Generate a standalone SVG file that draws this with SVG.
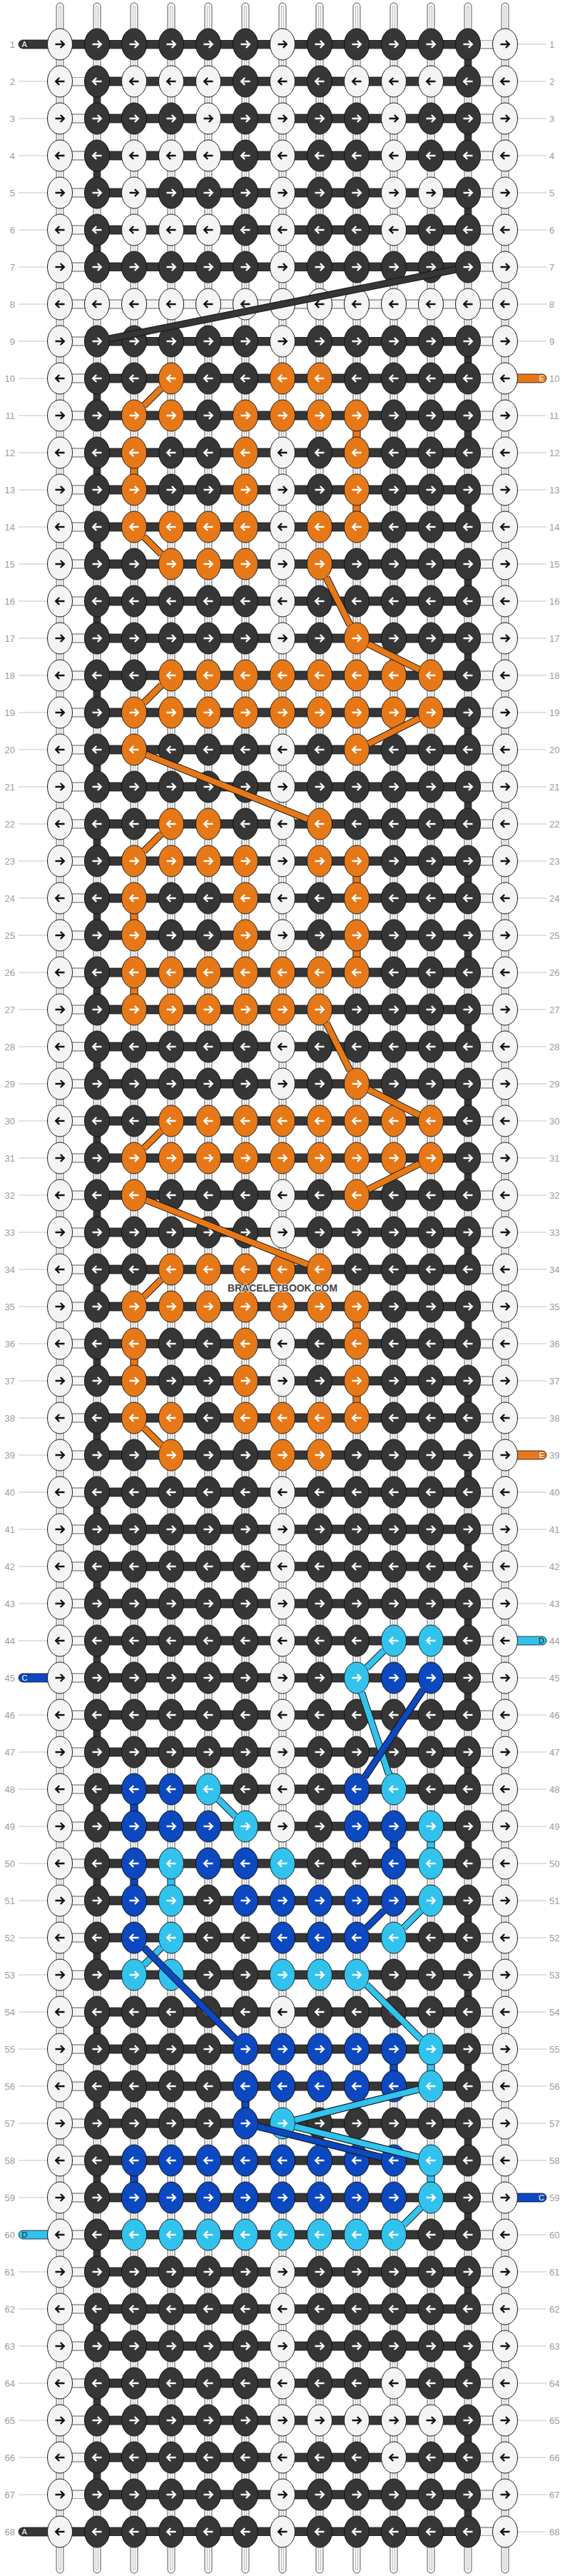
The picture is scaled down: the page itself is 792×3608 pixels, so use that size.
<svg xmlns="http://www.w3.org/2000/svg" width="792" height="3608" viewBox="0 0 792 3608">
<style>
.w{fill:#f4f4f4;stroke:#1a1a1a;stroke-width:1}
.k{fill:#363636;stroke:#111;stroke-width:1}
.o{fill:#e77817;stroke:#1a1a1a;stroke-width:1}
.b{fill:#0c48c0;stroke:#111;stroke-width:1}
.l{fill:#31c3ee;stroke:#1a1a1a;stroke-width:1}
.aw{fill:none;stroke:#fff;stroke-width:2.4}
.ab{fill:none;stroke:#111;stroke-width:2.4}
.t{font-family:"Liberation Sans",Arial,sans-serif;font-size:13px;fill:#9c9c9c}
.e{text-anchor:end}
.pl{font-family:"Liberation Sans",Arial,sans-serif;font-size:11px;fill:#fff}
.cx{fill:none;stroke:#141414;stroke-width:10}
.ck{fill:none;stroke:#363636;stroke-width:8}
.cO{fill:none;stroke:#e77817;stroke-width:8}
.cL{fill:none;stroke:#31c3ee;stroke-width:8}
.cB{fill:none;stroke:#0c48c0;stroke-width:8}
.sO{fill:#e77817;stroke:#1a1a1a;stroke-width:0.8}
.sB{fill:#0c48c0;stroke:#111;stroke-width:0.8}
.sL{fill:#31c3ee;stroke:#1a1a1a;stroke-width:0.8}
</style>
<defs>
<path id="ar" d="M-6.5 0H5M0.8-5L5.8 0L0.8 5"/>
<path id="al" d="M6.5 0H-5M-0.8-5L-5.8 0L-0.8 5"/>
<g id="Wr"><ellipse class="w" rx="17.5" ry="22"/><use href="#ar" class="ab"/></g>
<g id="Wl"><ellipse class="w" rx="17.5" ry="22"/><use href="#al" class="ab"/></g>
<g id="Kr"><ellipse class="k" rx="17.5" ry="22"/><use href="#ar" class="aw"/></g>
<g id="Kl"><ellipse class="k" rx="17.5" ry="22"/><use href="#al" class="aw"/></g>
<g id="Or"><ellipse class="o" rx="17.5" ry="22"/><use href="#ar" class="aw"/></g>
<g id="Ol"><ellipse class="o" rx="17.5" ry="22"/><use href="#al" class="aw"/></g>
<g id="Br"><ellipse class="b" rx="17.5" ry="22"/><use href="#ar" class="aw"/></g>
<g id="Bl"><ellipse class="b" rx="17.5" ry="22"/><use href="#al" class="aw"/></g>
<g id="Lr"><ellipse class="l" rx="17.5" ry="22"/><use href="#ar" class="aw"/></g>
<g id="Ll"><ellipse class="l" rx="17.5" ry="22"/><use href="#al" class="aw"/></g>
<g id="vs"><rect x="-5" y="4" width="10" height="3600" rx="5" fill="#f6f6f6" stroke="#333" stroke-width="0.8"/><rect x="-1.5" y="9" width="3" height="3590" fill="none" stroke="#aaa" stroke-width="0.7"/></g>
<pattern id="pw" x="32" y="36" width="52" height="52" patternUnits="userSpaceOnUse"><rect y="20" width="52" height="12" fill="#f4f4f4" stroke="#333" stroke-width="0.8"/></pattern>
<pattern id="pd" x="32" y="36" width="52" height="52" patternUnits="userSpaceOnUse"><rect y="20" width="52" height="12" fill="#363636" stroke="#111" stroke-width="0.8"/></pattern>
<path id="pK" d="M638.7 377.5L153.3 474.5"/>
<path id="pO" d="M226.3 543.7L201.7 568.3M201.7 751.7L226.3 776.3M457.3 808.6L490.7 875.4M516.3 902.1L587.7 937.9M226.3 959.7L201.7 984.3M587.7 1006.1L516.3 1041.9M204.7 1056.7L431.3 1147.3M226.3 1167.7L201.7 1192.3M457.3 1432.6L490.7 1499.4M516.3 1526.1L587.7 1561.9M226.3 1583.7L201.7 1608.3M587.7 1630.1L516.3 1665.9M204.7 1680.7L431.3 1771.3M226.3 1791.7L201.7 1816.3M201.7 1999.7L226.3 2024.3"/>
<path id="pL" d="M538.3 2311.7L513.7 2336.3M506.8 2370.3L545.2 2485.7M305.7 2519.7L330.3 2544.3M590.3 2675.7L565.7 2700.3M226.3 2727.7L201.7 2752.3M513.7 2779.7L590.3 2856.3M586.8 2926.3L413.2 2969.7M413.2 2978.3L586.8 3021.7M590.3 3091.7L565.7 3116.3"/>
<path id="pB" d="M592.8 2366.9L511.2 2489.1M538.3 2675.7L513.7 2700.3M201.7 2727.7L330.3 2856.3M361.2 2978.3L534.8 3021.7"/>
</defs>
<rect width="792" height="3608" fill="#fff"/>
<g id="label-lines" stroke="#c4c4c4" stroke-width="40" stroke-dasharray="1 51">
<line x1="46" y1="61.5" x2="46" y2="3547"/>
<line x1="746" y1="61.5" x2="746" y2="3547"/>
</g>
<g id="strands">
<use href="#vs" x="84"/><use href="#vs" x="136"/><use href="#vs" x="188"/><use href="#vs" x="240"/><use href="#vs" x="292"/><use href="#vs" x="344"/><use href="#vs" x="396"/><use href="#vs" x="448"/><use href="#vs" x="500"/><use href="#vs" x="552"/><use href="#vs" x="604"/><use href="#vs" x="656"/><use href="#vs" x="708"/>
</g>
<g id="thread-segments">
<g stroke="#363636" stroke-width="10" stroke-dasharray="14 90">
<line x1="656" y1="81" x2="656" y2="303"/>
<line x1="656" y1="497" x2="656" y2="3527"/>
<line x1="136" y1="133" x2="136" y2="355"/>
<line x1="136" y1="549" x2="136" y2="3475"/>
</g>
<g class="sO"><rect x="495" y="601" width="10" height="14"/><rect x="183" y="653" width="10" height="14"/><rect x="495" y="705" width="10" height="14"/><rect x="495" y="1225" width="10" height="14"/><rect x="183" y="1277" width="10" height="14"/><rect x="495" y="1329" width="10" height="14"/><rect x="183" y="1381" width="10" height="14"/><rect x="495" y="1849" width="10" height="14"/><rect x="183" y="1901" width="10" height="14"/><rect x="495" y="1953" width="10" height="14"/></g>
<g class="sB"><rect x="183" y="2525" width="10" height="14"/><rect x="547" y="2577" width="10" height="14"/><rect x="183" y="2629" width="10" height="14"/><rect x="547" y="2889" width="10" height="14"/><rect x="339" y="2941" width="10" height="14"/><rect x="183" y="3045" width="10" height="14"/></g>
<g class="sL"><rect x="599" y="2577" width="10" height="14"/><rect x="235" y="2629" width="10" height="14"/><rect x="599" y="2889" width="10" height="14"/><rect x="599" y="3045" width="10" height="14"/></g>
</g>
<g id="bars">
<rect x="136" y="56" width="520" height="324" fill="url(#pd)"/>
<rect x="136" y="472" width="520" height="3080" fill="url(#pd)"/>
<rect x="136" y="420" width="520" height="12" fill="#f4f4f4" stroke="#333" stroke-width="0.8"/>
<rect x="84" y="108" width="52" height="3392" fill="url(#pw)"/>
<rect x="656" y="56" width="52" height="3496" fill="url(#pw)"/>
</g>
<g id="pills" stroke="#111" stroke-width="0.8">
<rect x="26" y="56" width="110" height="12" rx="6" fill="#363636"/>
<rect x="26" y="3540" width="110" height="12" rx="6" fill="#363636"/>
<rect x="26" y="2344" width="66" height="12" rx="6" fill="#0c48c0"/>
<rect x="26" y="3124" width="66" height="12" rx="6" fill="#31c3ee"/>
<rect x="700" y="524" width="66" height="12" rx="6" fill="#e77817"/>
<rect x="700" y="2032" width="66" height="12" rx="6" fill="#e77817"/>
<rect x="700" y="2292" width="66" height="12" rx="6" fill="#31c3ee"/>
<rect x="700" y="3072" width="66" height="12" rx="6" fill="#0c48c0"/>
</g>
<g id="pill-letters" class="pl">
<text x="30.5" y="66">A</text>
<text x="30.5" y="3550">A</text>
<text x="30.5" y="2354">C</text>
<text x="30.5" y="3134" fill="#222">D</text>
<text x="763" y="534" text-anchor="end">E</text>
<text x="763" y="2042" text-anchor="end">E</text>
<text x="763" y="2302" text-anchor="end" fill="#222">D</text>
<text x="763" y="3082" text-anchor="end">C</text>
</g>
<g id="r1" transform="translate(0,62)"><text class="t e" x="21" y="4.5">1</text><text class="t" x="770" y="4.5">1</text><use href="#Wr" x="84"/><use href="#Kr" x="136"/><use href="#Kr" x="188"/><use href="#Kr" x="240"/><use href="#Kr" x="292"/><use href="#Kr" x="344"/><use href="#Wr" x="396"/><use href="#Kr" x="448"/><use href="#Kr" x="500"/><use href="#Kr" x="552"/><use href="#Kr" x="604"/><use href="#Kr" x="656"/><use href="#Wr" x="708"/></g>
<g id="r2" transform="translate(0,114)"><text class="t e" x="21" y="4.5">2</text><text class="t" x="770" y="4.5">2</text><use href="#Wl" x="84"/><use href="#Kl" x="136"/><use href="#Wl" x="188"/><use href="#Wl" x="240"/><use href="#Wl" x="292"/><use href="#Kl" x="344"/><use href="#Wl" x="396"/><use href="#Kl" x="448"/><use href="#Wl" x="500"/><use href="#Wl" x="552"/><use href="#Wl" x="604"/><use href="#Kl" x="656"/><use href="#Wl" x="708"/></g>
<g id="r3" transform="translate(0,166)"><text class="t e" x="21" y="4.5">3</text><text class="t" x="770" y="4.5">3</text><use href="#Wr" x="84"/><use href="#Kr" x="136"/><use href="#Kr" x="188"/><use href="#Kr" x="240"/><use href="#Wr" x="292"/><use href="#Kr" x="344"/><use href="#Wr" x="396"/><use href="#Kr" x="448"/><use href="#Kr" x="500"/><use href="#Wr" x="552"/><use href="#Kr" x="604"/><use href="#Kr" x="656"/><use href="#Wr" x="708"/></g>
<g id="r4" transform="translate(0,218)"><text class="t e" x="21" y="4.5">4</text><text class="t" x="770" y="4.5">4</text><use href="#Wl" x="84"/><use href="#Kl" x="136"/><use href="#Wl" x="188"/><use href="#Wl" x="240"/><use href="#Wl" x="292"/><use href="#Kl" x="344"/><use href="#Wl" x="396"/><use href="#Kl" x="448"/><use href="#Kl" x="500"/><use href="#Wl" x="552"/><use href="#Kl" x="604"/><use href="#Kl" x="656"/><use href="#Wl" x="708"/></g>
<g id="r5" transform="translate(0,270)"><text class="t e" x="21" y="4.5">5</text><text class="t" x="770" y="4.5">5</text><use href="#Wr" x="84"/><use href="#Kr" x="136"/><use href="#Wr" x="188"/><use href="#Kr" x="240"/><use href="#Kr" x="292"/><use href="#Kr" x="344"/><use href="#Wr" x="396"/><use href="#Kr" x="448"/><use href="#Kr" x="500"/><use href="#Wr" x="552"/><use href="#Wr" x="604"/><use href="#Kr" x="656"/><use href="#Wr" x="708"/></g>
<g id="r6" transform="translate(0,322)"><text class="t e" x="21" y="4.5">6</text><text class="t" x="770" y="4.5">6</text><use href="#Wl" x="84"/><use href="#Kl" x="136"/><use href="#Wl" x="188"/><use href="#Wl" x="240"/><use href="#Wl" x="292"/><use href="#Kl" x="344"/><use href="#Wl" x="396"/><use href="#Kl" x="448"/><use href="#Kl" x="500"/><use href="#Wl" x="552"/><use href="#Kl" x="604"/><use href="#Kl" x="656"/><use href="#Wl" x="708"/></g>
<g id="r7" transform="translate(0,374)"><text class="t e" x="21" y="4.5">7</text><text class="t" x="770" y="4.5">7</text><use href="#Wr" x="84"/><use href="#Kr" x="136"/><use href="#Kr" x="188"/><use href="#Kr" x="240"/><use href="#Kr" x="292"/><use href="#Kr" x="344"/><use href="#Wr" x="396"/><use href="#Kr" x="448"/><use href="#Kr" x="500"/><use href="#Kr" x="552"/><use href="#Kr" x="604"/><use href="#Kr" x="656"/><use href="#Wr" x="708"/></g>
<g id="r8" transform="translate(0,426)"><text class="t e" x="21" y="4.5">8</text><text class="t" x="770" y="4.5">8</text><use href="#Wl" x="84"/><use href="#Wl" x="136"/><use href="#Wl" x="188"/><use href="#Wl" x="240"/><use href="#Wl" x="292"/><use href="#Wl" x="344"/><use href="#Wl" x="396"/><use href="#Wl" x="448"/><use href="#Wl" x="500"/><use href="#Wl" x="552"/><use href="#Wl" x="604"/><use href="#Wl" x="656"/><use href="#Wl" x="708"/></g>
<g id="r9" transform="translate(0,478)"><text class="t e" x="21" y="4.5">9</text><text class="t" x="770" y="4.5">9</text><use href="#Wr" x="84"/><use href="#Kr" x="136"/><use href="#Kr" x="188"/><use href="#Kr" x="240"/><use href="#Kr" x="292"/><use href="#Kr" x="344"/><use href="#Wr" x="396"/><use href="#Kr" x="448"/><use href="#Kr" x="500"/><use href="#Kr" x="552"/><use href="#Kr" x="604"/><use href="#Kr" x="656"/><use href="#Wr" x="708"/></g>
<g id="r10" transform="translate(0,530)"><text class="t e" x="21" y="4.5">10</text><text class="t" x="770" y="4.5">10</text><use href="#Wl" x="84"/><use href="#Kl" x="136"/><use href="#Kl" x="188"/><use href="#Ol" x="240"/><use href="#Kl" x="292"/><use href="#Kl" x="344"/><use href="#Ol" x="396"/><use href="#Ol" x="448"/><use href="#Kl" x="500"/><use href="#Kl" x="552"/><use href="#Kl" x="604"/><use href="#Kl" x="656"/><use href="#Wl" x="708"/></g>
<g id="r11" transform="translate(0,582)"><text class="t e" x="21" y="4.5">11</text><text class="t" x="770" y="4.5">11</text><use href="#Wr" x="84"/><use href="#Kr" x="136"/><use href="#Or" x="188"/><use href="#Or" x="240"/><use href="#Kr" x="292"/><use href="#Or" x="344"/><use href="#Or" x="396"/><use href="#Or" x="448"/><use href="#Or" x="500"/><use href="#Kr" x="552"/><use href="#Kr" x="604"/><use href="#Kr" x="656"/><use href="#Wr" x="708"/></g>
<g id="r12" transform="translate(0,634)"><text class="t e" x="21" y="4.5">12</text><text class="t" x="770" y="4.5">12</text><use href="#Wl" x="84"/><use href="#Kl" x="136"/><use href="#Ol" x="188"/><use href="#Kl" x="240"/><use href="#Kl" x="292"/><use href="#Ol" x="344"/><use href="#Wl" x="396"/><use href="#Kl" x="448"/><use href="#Ol" x="500"/><use href="#Kl" x="552"/><use href="#Kl" x="604"/><use href="#Kl" x="656"/><use href="#Wl" x="708"/></g>
<g id="r13" transform="translate(0,686)"><text class="t e" x="21" y="4.5">13</text><text class="t" x="770" y="4.5">13</text><use href="#Wr" x="84"/><use href="#Kr" x="136"/><use href="#Or" x="188"/><use href="#Kr" x="240"/><use href="#Kr" x="292"/><use href="#Or" x="344"/><use href="#Wr" x="396"/><use href="#Kr" x="448"/><use href="#Or" x="500"/><use href="#Kr" x="552"/><use href="#Kr" x="604"/><use href="#Kr" x="656"/><use href="#Wr" x="708"/></g>
<g id="r14" transform="translate(0,738)"><text class="t e" x="21" y="4.5">14</text><text class="t" x="770" y="4.5">14</text><use href="#Wl" x="84"/><use href="#Kl" x="136"/><use href="#Ol" x="188"/><use href="#Ol" x="240"/><use href="#Ol" x="292"/><use href="#Ol" x="344"/><use href="#Wl" x="396"/><use href="#Ol" x="448"/><use href="#Ol" x="500"/><use href="#Kl" x="552"/><use href="#Kl" x="604"/><use href="#Kl" x="656"/><use href="#Wl" x="708"/></g>
<g id="r15" transform="translate(0,790)"><text class="t e" x="21" y="4.5">15</text><text class="t" x="770" y="4.5">15</text><use href="#Wr" x="84"/><use href="#Kr" x="136"/><use href="#Kr" x="188"/><use href="#Or" x="240"/><use href="#Or" x="292"/><use href="#Or" x="344"/><use href="#Wr" x="396"/><use href="#Or" x="448"/><use href="#Kr" x="500"/><use href="#Kr" x="552"/><use href="#Kr" x="604"/><use href="#Kr" x="656"/><use href="#Wr" x="708"/></g>
<g id="r16" transform="translate(0,842)"><text class="t e" x="21" y="4.5">16</text><text class="t" x="770" y="4.5">16</text><use href="#Wl" x="84"/><use href="#Kl" x="136"/><use href="#Kl" x="188"/><use href="#Kl" x="240"/><use href="#Kl" x="292"/><use href="#Kl" x="344"/><use href="#Wl" x="396"/><use href="#Kl" x="448"/><use href="#Kl" x="500"/><use href="#Kl" x="552"/><use href="#Kl" x="604"/><use href="#Kl" x="656"/><use href="#Wl" x="708"/></g>
<g id="r17" transform="translate(0,894)"><text class="t e" x="21" y="4.5">17</text><text class="t" x="770" y="4.5">17</text><use href="#Wr" x="84"/><use href="#Kr" x="136"/><use href="#Kr" x="188"/><use href="#Kr" x="240"/><use href="#Kr" x="292"/><use href="#Kr" x="344"/><use href="#Wr" x="396"/><use href="#Kr" x="448"/><use href="#Or" x="500"/><use href="#Kr" x="552"/><use href="#Kr" x="604"/><use href="#Kr" x="656"/><use href="#Wr" x="708"/></g>
<g id="r18" transform="translate(0,946)"><text class="t e" x="21" y="4.5">18</text><text class="t" x="770" y="4.5">18</text><use href="#Wl" x="84"/><use href="#Kl" x="136"/><use href="#Kl" x="188"/><use href="#Ol" x="240"/><use href="#Ol" x="292"/><use href="#Ol" x="344"/><use href="#Ol" x="396"/><use href="#Ol" x="448"/><use href="#Ol" x="500"/><use href="#Ol" x="552"/><use href="#Ol" x="604"/><use href="#Kl" x="656"/><use href="#Wl" x="708"/></g>
<g id="r19" transform="translate(0,998)"><text class="t e" x="21" y="4.5">19</text><text class="t" x="770" y="4.5">19</text><use href="#Wr" x="84"/><use href="#Kr" x="136"/><use href="#Or" x="188"/><use href="#Or" x="240"/><use href="#Or" x="292"/><use href="#Or" x="344"/><use href="#Or" x="396"/><use href="#Or" x="448"/><use href="#Or" x="500"/><use href="#Or" x="552"/><use href="#Or" x="604"/><use href="#Kr" x="656"/><use href="#Wr" x="708"/></g>
<g id="r20" transform="translate(0,1050)"><text class="t e" x="21" y="4.5">20</text><text class="t" x="770" y="4.5">20</text><use href="#Wl" x="84"/><use href="#Kl" x="136"/><use href="#Ol" x="188"/><use href="#Kl" x="240"/><use href="#Kl" x="292"/><use href="#Kl" x="344"/><use href="#Wl" x="396"/><use href="#Kl" x="448"/><use href="#Ol" x="500"/><use href="#Kl" x="552"/><use href="#Kl" x="604"/><use href="#Kl" x="656"/><use href="#Wl" x="708"/></g>
<g id="r21" transform="translate(0,1102)"><text class="t e" x="21" y="4.5">21</text><text class="t" x="770" y="4.5">21</text><use href="#Wr" x="84"/><use href="#Kr" x="136"/><use href="#Kr" x="188"/><use href="#Kr" x="240"/><use href="#Kr" x="292"/><use href="#Kr" x="344"/><use href="#Wr" x="396"/><use href="#Kr" x="448"/><use href="#Kr" x="500"/><use href="#Kr" x="552"/><use href="#Kr" x="604"/><use href="#Kr" x="656"/><use href="#Wr" x="708"/></g>
<g id="r22" transform="translate(0,1154)"><text class="t e" x="21" y="4.5">22</text><text class="t" x="770" y="4.5">22</text><use href="#Wl" x="84"/><use href="#Kl" x="136"/><use href="#Kl" x="188"/><use href="#Ol" x="240"/><use href="#Ol" x="292"/><use href="#Kl" x="344"/><use href="#Wl" x="396"/><use href="#Ol" x="448"/><use href="#Kl" x="500"/><use href="#Kl" x="552"/><use href="#Kl" x="604"/><use href="#Kl" x="656"/><use href="#Wl" x="708"/></g>
<g id="r23" transform="translate(0,1206)"><text class="t e" x="21" y="4.5">23</text><text class="t" x="770" y="4.5">23</text><use href="#Wr" x="84"/><use href="#Kr" x="136"/><use href="#Or" x="188"/><use href="#Or" x="240"/><use href="#Or" x="292"/><use href="#Or" x="344"/><use href="#Wr" x="396"/><use href="#Or" x="448"/><use href="#Or" x="500"/><use href="#Kr" x="552"/><use href="#Kr" x="604"/><use href="#Kr" x="656"/><use href="#Wr" x="708"/></g>
<g id="r24" transform="translate(0,1258)"><text class="t e" x="21" y="4.5">24</text><text class="t" x="770" y="4.5">24</text><use href="#Wl" x="84"/><use href="#Kl" x="136"/><use href="#Ol" x="188"/><use href="#Kl" x="240"/><use href="#Kl" x="292"/><use href="#Ol" x="344"/><use href="#Wl" x="396"/><use href="#Kl" x="448"/><use href="#Ol" x="500"/><use href="#Kl" x="552"/><use href="#Kl" x="604"/><use href="#Kl" x="656"/><use href="#Wl" x="708"/></g>
<g id="r25" transform="translate(0,1310)"><text class="t e" x="21" y="4.5">25</text><text class="t" x="770" y="4.5">25</text><use href="#Wr" x="84"/><use href="#Kr" x="136"/><use href="#Or" x="188"/><use href="#Kr" x="240"/><use href="#Kr" x="292"/><use href="#Or" x="344"/><use href="#Wr" x="396"/><use href="#Kr" x="448"/><use href="#Or" x="500"/><use href="#Kr" x="552"/><use href="#Kr" x="604"/><use href="#Kr" x="656"/><use href="#Wr" x="708"/></g>
<g id="r26" transform="translate(0,1362)"><text class="t e" x="21" y="4.5">26</text><text class="t" x="770" y="4.5">26</text><use href="#Wl" x="84"/><use href="#Kl" x="136"/><use href="#Ol" x="188"/><use href="#Ol" x="240"/><use href="#Ol" x="292"/><use href="#Ol" x="344"/><use href="#Ol" x="396"/><use href="#Ol" x="448"/><use href="#Ol" x="500"/><use href="#Kl" x="552"/><use href="#Kl" x="604"/><use href="#Kl" x="656"/><use href="#Wl" x="708"/></g>
<g id="r27" transform="translate(0,1414)"><text class="t e" x="21" y="4.5">27</text><text class="t" x="770" y="4.5">27</text><use href="#Wr" x="84"/><use href="#Kr" x="136"/><use href="#Or" x="188"/><use href="#Or" x="240"/><use href="#Or" x="292"/><use href="#Or" x="344"/><use href="#Or" x="396"/><use href="#Or" x="448"/><use href="#Kr" x="500"/><use href="#Kr" x="552"/><use href="#Kr" x="604"/><use href="#Kr" x="656"/><use href="#Wr" x="708"/></g>
<g id="r28" transform="translate(0,1466)"><text class="t e" x="21" y="4.5">28</text><text class="t" x="770" y="4.5">28</text><use href="#Wl" x="84"/><use href="#Kl" x="136"/><use href="#Kl" x="188"/><use href="#Kl" x="240"/><use href="#Kl" x="292"/><use href="#Kl" x="344"/><use href="#Wl" x="396"/><use href="#Kl" x="448"/><use href="#Kl" x="500"/><use href="#Kl" x="552"/><use href="#Kl" x="604"/><use href="#Kl" x="656"/><use href="#Wl" x="708"/></g>
<g id="r29" transform="translate(0,1518)"><text class="t e" x="21" y="4.5">29</text><text class="t" x="770" y="4.5">29</text><use href="#Wr" x="84"/><use href="#Kr" x="136"/><use href="#Kr" x="188"/><use href="#Kr" x="240"/><use href="#Kr" x="292"/><use href="#Kr" x="344"/><use href="#Wr" x="396"/><use href="#Kr" x="448"/><use href="#Or" x="500"/><use href="#Kr" x="552"/><use href="#Kr" x="604"/><use href="#Kr" x="656"/><use href="#Wr" x="708"/></g>
<g id="r30" transform="translate(0,1570)"><text class="t e" x="21" y="4.5">30</text><text class="t" x="770" y="4.5">30</text><use href="#Wl" x="84"/><use href="#Kl" x="136"/><use href="#Kl" x="188"/><use href="#Ol" x="240"/><use href="#Ol" x="292"/><use href="#Ol" x="344"/><use href="#Ol" x="396"/><use href="#Ol" x="448"/><use href="#Ol" x="500"/><use href="#Ol" x="552"/><use href="#Ol" x="604"/><use href="#Kl" x="656"/><use href="#Wl" x="708"/></g>
<g id="r31" transform="translate(0,1622)"><text class="t e" x="21" y="4.5">31</text><text class="t" x="770" y="4.5">31</text><use href="#Wr" x="84"/><use href="#Kr" x="136"/><use href="#Or" x="188"/><use href="#Or" x="240"/><use href="#Or" x="292"/><use href="#Or" x="344"/><use href="#Or" x="396"/><use href="#Or" x="448"/><use href="#Or" x="500"/><use href="#Or" x="552"/><use href="#Or" x="604"/><use href="#Kr" x="656"/><use href="#Wr" x="708"/></g>
<g id="r32" transform="translate(0,1674)"><text class="t e" x="21" y="4.5">32</text><text class="t" x="770" y="4.5">32</text><use href="#Wl" x="84"/><use href="#Kl" x="136"/><use href="#Ol" x="188"/><use href="#Kl" x="240"/><use href="#Kl" x="292"/><use href="#Kl" x="344"/><use href="#Wl" x="396"/><use href="#Kl" x="448"/><use href="#Ol" x="500"/><use href="#Kl" x="552"/><use href="#Kl" x="604"/><use href="#Kl" x="656"/><use href="#Wl" x="708"/></g>
<g id="r33" transform="translate(0,1726)"><text class="t e" x="21" y="4.5">33</text><text class="t" x="770" y="4.5">33</text><use href="#Wr" x="84"/><use href="#Kr" x="136"/><use href="#Kr" x="188"/><use href="#Kr" x="240"/><use href="#Kr" x="292"/><use href="#Kr" x="344"/><use href="#Wr" x="396"/><use href="#Kr" x="448"/><use href="#Kr" x="500"/><use href="#Kr" x="552"/><use href="#Kr" x="604"/><use href="#Kr" x="656"/><use href="#Wr" x="708"/></g>
<g id="r34" transform="translate(0,1778)"><text class="t e" x="21" y="4.5">34</text><text class="t" x="770" y="4.5">34</text><use href="#Wl" x="84"/><use href="#Kl" x="136"/><use href="#Kl" x="188"/><use href="#Ol" x="240"/><use href="#Ol" x="292"/><use href="#Ol" x="344"/><use href="#Ol" x="396"/><use href="#Ol" x="448"/><use href="#Kl" x="500"/><use href="#Kl" x="552"/><use href="#Kl" x="604"/><use href="#Kl" x="656"/><use href="#Wl" x="708"/></g>
<g id="r35" transform="translate(0,1830)"><text class="t e" x="21" y="4.5">35</text><text class="t" x="770" y="4.5">35</text><use href="#Wr" x="84"/><use href="#Kr" x="136"/><use href="#Or" x="188"/><use href="#Or" x="240"/><use href="#Or" x="292"/><use href="#Or" x="344"/><use href="#Or" x="396"/><use href="#Or" x="448"/><use href="#Or" x="500"/><use href="#Kr" x="552"/><use href="#Kr" x="604"/><use href="#Kr" x="656"/><use href="#Wr" x="708"/></g>
<g id="r36" transform="translate(0,1882)"><text class="t e" x="21" y="4.5">36</text><text class="t" x="770" y="4.5">36</text><use href="#Wl" x="84"/><use href="#Kl" x="136"/><use href="#Ol" x="188"/><use href="#Kl" x="240"/><use href="#Kl" x="292"/><use href="#Ol" x="344"/><use href="#Wl" x="396"/><use href="#Kl" x="448"/><use href="#Ol" x="500"/><use href="#Kl" x="552"/><use href="#Kl" x="604"/><use href="#Kl" x="656"/><use href="#Wl" x="708"/></g>
<g id="r37" transform="translate(0,1934)"><text class="t e" x="21" y="4.5">37</text><text class="t" x="770" y="4.5">37</text><use href="#Wr" x="84"/><use href="#Kr" x="136"/><use href="#Or" x="188"/><use href="#Kr" x="240"/><use href="#Kr" x="292"/><use href="#Or" x="344"/><use href="#Wr" x="396"/><use href="#Kr" x="448"/><use href="#Or" x="500"/><use href="#Kr" x="552"/><use href="#Kr" x="604"/><use href="#Kr" x="656"/><use href="#Wr" x="708"/></g>
<g id="r38" transform="translate(0,1986)"><text class="t e" x="21" y="4.5">38</text><text class="t" x="770" y="4.5">38</text><use href="#Wl" x="84"/><use href="#Kl" x="136"/><use href="#Ol" x="188"/><use href="#Ol" x="240"/><use href="#Kl" x="292"/><use href="#Ol" x="344"/><use href="#Ol" x="396"/><use href="#Ol" x="448"/><use href="#Ol" x="500"/><use href="#Kl" x="552"/><use href="#Kl" x="604"/><use href="#Kl" x="656"/><use href="#Wl" x="708"/></g>
<g id="r39" transform="translate(0,2038)"><text class="t e" x="21" y="4.5">39</text><text class="t" x="770" y="4.5">39</text><use href="#Wr" x="84"/><use href="#Kr" x="136"/><use href="#Kr" x="188"/><use href="#Or" x="240"/><use href="#Kr" x="292"/><use href="#Kr" x="344"/><use href="#Or" x="396"/><use href="#Or" x="448"/><use href="#Kr" x="500"/><use href="#Kr" x="552"/><use href="#Kr" x="604"/><use href="#Kr" x="656"/><use href="#Wr" x="708"/></g>
<g id="r40" transform="translate(0,2090)"><text class="t e" x="21" y="4.5">40</text><text class="t" x="770" y="4.5">40</text><use href="#Wl" x="84"/><use href="#Kl" x="136"/><use href="#Kl" x="188"/><use href="#Kl" x="240"/><use href="#Kl" x="292"/><use href="#Kl" x="344"/><use href="#Wl" x="396"/><use href="#Kl" x="448"/><use href="#Kl" x="500"/><use href="#Kl" x="552"/><use href="#Kl" x="604"/><use href="#Kl" x="656"/><use href="#Wl" x="708"/></g>
<g id="r41" transform="translate(0,2142)"><text class="t e" x="21" y="4.5">41</text><text class="t" x="770" y="4.5">41</text><use href="#Wr" x="84"/><use href="#Kr" x="136"/><use href="#Kr" x="188"/><use href="#Kr" x="240"/><use href="#Kr" x="292"/><use href="#Kr" x="344"/><use href="#Wr" x="396"/><use href="#Kr" x="448"/><use href="#Kr" x="500"/><use href="#Kr" x="552"/><use href="#Kr" x="604"/><use href="#Kr" x="656"/><use href="#Wr" x="708"/></g>
<g id="r42" transform="translate(0,2194)"><text class="t e" x="21" y="4.5">42</text><text class="t" x="770" y="4.5">42</text><use href="#Wl" x="84"/><use href="#Kl" x="136"/><use href="#Kl" x="188"/><use href="#Kl" x="240"/><use href="#Kl" x="292"/><use href="#Kl" x="344"/><use href="#Wl" x="396"/><use href="#Kl" x="448"/><use href="#Kl" x="500"/><use href="#Kl" x="552"/><use href="#Kl" x="604"/><use href="#Kl" x="656"/><use href="#Wl" x="708"/></g>
<g id="r43" transform="translate(0,2246)"><text class="t e" x="21" y="4.5">43</text><text class="t" x="770" y="4.5">43</text><use href="#Wr" x="84"/><use href="#Kr" x="136"/><use href="#Kr" x="188"/><use href="#Kr" x="240"/><use href="#Kr" x="292"/><use href="#Kr" x="344"/><use href="#Wr" x="396"/><use href="#Kr" x="448"/><use href="#Kr" x="500"/><use href="#Kr" x="552"/><use href="#Kr" x="604"/><use href="#Kr" x="656"/><use href="#Wr" x="708"/></g>
<g id="r44" transform="translate(0,2298)"><text class="t e" x="21" y="4.5">44</text><text class="t" x="770" y="4.5">44</text><use href="#Wl" x="84"/><use href="#Kl" x="136"/><use href="#Kl" x="188"/><use href="#Kl" x="240"/><use href="#Kl" x="292"/><use href="#Kl" x="344"/><use href="#Wl" x="396"/><use href="#Kl" x="448"/><use href="#Kl" x="500"/><use href="#Ll" x="552"/><use href="#Ll" x="604"/><use href="#Kl" x="656"/><use href="#Wl" x="708"/></g>
<g id="r45" transform="translate(0,2350)"><text class="t e" x="21" y="4.5">45</text><text class="t" x="770" y="4.5">45</text><use href="#Wr" x="84"/><use href="#Kr" x="136"/><use href="#Kr" x="188"/><use href="#Kr" x="240"/><use href="#Kr" x="292"/><use href="#Kr" x="344"/><use href="#Wr" x="396"/><use href="#Kr" x="448"/><use href="#Lr" x="500"/><use href="#Br" x="552"/><use href="#Br" x="604"/><use href="#Kr" x="656"/><use href="#Wr" x="708"/></g>
<g id="r46" transform="translate(0,2402)"><text class="t e" x="21" y="4.5">46</text><text class="t" x="770" y="4.5">46</text><use href="#Wl" x="84"/><use href="#Kl" x="136"/><use href="#Kl" x="188"/><use href="#Kl" x="240"/><use href="#Kl" x="292"/><use href="#Kl" x="344"/><use href="#Wl" x="396"/><use href="#Kl" x="448"/><use href="#Kl" x="500"/><use href="#Kl" x="552"/><use href="#Kl" x="604"/><use href="#Kl" x="656"/><use href="#Wl" x="708"/></g>
<g id="r47" transform="translate(0,2454)"><text class="t e" x="21" y="4.5">47</text><text class="t" x="770" y="4.5">47</text><use href="#Wr" x="84"/><use href="#Kr" x="136"/><use href="#Kr" x="188"/><use href="#Kr" x="240"/><use href="#Kr" x="292"/><use href="#Kr" x="344"/><use href="#Wr" x="396"/><use href="#Kr" x="448"/><use href="#Kr" x="500"/><use href="#Kr" x="552"/><use href="#Kr" x="604"/><use href="#Kr" x="656"/><use href="#Wr" x="708"/></g>
<g id="r48" transform="translate(0,2506)"><text class="t e" x="21" y="4.5">48</text><text class="t" x="770" y="4.5">48</text><use href="#Wl" x="84"/><use href="#Kl" x="136"/><use href="#Bl" x="188"/><use href="#Bl" x="240"/><use href="#Ll" x="292"/><use href="#Kl" x="344"/><use href="#Wl" x="396"/><use href="#Kl" x="448"/><use href="#Bl" x="500"/><use href="#Ll" x="552"/><use href="#Kl" x="604"/><use href="#Kl" x="656"/><use href="#Wl" x="708"/></g>
<g id="r49" transform="translate(0,2558)"><text class="t e" x="21" y="4.5">49</text><text class="t" x="770" y="4.5">49</text><use href="#Wr" x="84"/><use href="#Kr" x="136"/><use href="#Br" x="188"/><use href="#Br" x="240"/><use href="#Br" x="292"/><use href="#Lr" x="344"/><use href="#Wr" x="396"/><use href="#Kr" x="448"/><use href="#Br" x="500"/><use href="#Br" x="552"/><use href="#Lr" x="604"/><use href="#Kr" x="656"/><use href="#Wr" x="708"/></g>
<g id="r50" transform="translate(0,2610)"><text class="t e" x="21" y="4.5">50</text><text class="t" x="770" y="4.5">50</text><use href="#Wl" x="84"/><use href="#Kl" x="136"/><use href="#Bl" x="188"/><use href="#Ll" x="240"/><use href="#Bl" x="292"/><use href="#Bl" x="344"/><use href="#Ll" x="396"/><use href="#Kl" x="448"/><use href="#Kl" x="500"/><use href="#Bl" x="552"/><use href="#Ll" x="604"/><use href="#Kl" x="656"/><use href="#Wl" x="708"/></g>
<g id="r51" transform="translate(0,2662)"><text class="t e" x="21" y="4.5">51</text><text class="t" x="770" y="4.5">51</text><use href="#Wr" x="84"/><use href="#Kr" x="136"/><use href="#Br" x="188"/><use href="#Lr" x="240"/><use href="#Kr" x="292"/><use href="#Br" x="344"/><use href="#Br" x="396"/><use href="#Br" x="448"/><use href="#Br" x="500"/><use href="#Br" x="552"/><use href="#Lr" x="604"/><use href="#Kr" x="656"/><use href="#Wr" x="708"/></g>
<g id="r52" transform="translate(0,2714)"><text class="t e" x="21" y="4.5">52</text><text class="t" x="770" y="4.5">52</text><use href="#Wl" x="84"/><use href="#Kl" x="136"/><use href="#Bl" x="188"/><use href="#Ll" x="240"/><use href="#Kl" x="292"/><use href="#Kl" x="344"/><use href="#Bl" x="396"/><use href="#Bl" x="448"/><use href="#Bl" x="500"/><use href="#Ll" x="552"/><use href="#Kl" x="604"/><use href="#Kl" x="656"/><use href="#Wl" x="708"/></g>
<g id="r53" transform="translate(0,2766)"><text class="t e" x="21" y="4.5">53</text><text class="t" x="770" y="4.5">53</text><use href="#Wr" x="84"/><use href="#Kr" x="136"/><use href="#Lr" x="188"/><use href="#Lr" x="240"/><use href="#Kr" x="292"/><use href="#Kr" x="344"/><use href="#Lr" x="396"/><use href="#Lr" x="448"/><use href="#Lr" x="500"/><use href="#Kr" x="552"/><use href="#Kr" x="604"/><use href="#Kr" x="656"/><use href="#Wr" x="708"/></g>
<g id="r54" transform="translate(0,2818)"><text class="t e" x="21" y="4.5">54</text><text class="t" x="770" y="4.5">54</text><use href="#Wl" x="84"/><use href="#Kl" x="136"/><use href="#Kl" x="188"/><use href="#Kl" x="240"/><use href="#Kl" x="292"/><use href="#Kl" x="344"/><use href="#Wl" x="396"/><use href="#Kl" x="448"/><use href="#Kl" x="500"/><use href="#Kl" x="552"/><use href="#Kl" x="604"/><use href="#Kl" x="656"/><use href="#Wl" x="708"/></g>
<g id="r55" transform="translate(0,2870)"><text class="t e" x="21" y="4.5">55</text><text class="t" x="770" y="4.5">55</text><use href="#Wr" x="84"/><use href="#Kr" x="136"/><use href="#Kr" x="188"/><use href="#Kr" x="240"/><use href="#Kr" x="292"/><use href="#Br" x="344"/><use href="#Br" x="396"/><use href="#Br" x="448"/><use href="#Br" x="500"/><use href="#Br" x="552"/><use href="#Lr" x="604"/><use href="#Kr" x="656"/><use href="#Wr" x="708"/></g>
<g id="r56" transform="translate(0,2922)"><text class="t e" x="21" y="4.5">56</text><text class="t" x="770" y="4.5">56</text><use href="#Wl" x="84"/><use href="#Kl" x="136"/><use href="#Kl" x="188"/><use href="#Kl" x="240"/><use href="#Kl" x="292"/><use href="#Bl" x="344"/><use href="#Bl" x="396"/><use href="#Bl" x="448"/><use href="#Bl" x="500"/><use href="#Bl" x="552"/><use href="#Ll" x="604"/><use href="#Kl" x="656"/><use href="#Wl" x="708"/></g>
<g id="r57" transform="translate(0,2974)"><text class="t e" x="21" y="4.5">57</text><text class="t" x="770" y="4.5">57</text><use href="#Wr" x="84"/><use href="#Kr" x="136"/><use href="#Kr" x="188"/><use href="#Kr" x="240"/><use href="#Kr" x="292"/><use href="#Br" x="344"/><use href="#Lr" x="396"/><use href="#Kr" x="448"/><use href="#Kr" x="500"/><use href="#Kr" x="552"/><use href="#Kr" x="604"/><use href="#Kr" x="656"/><use href="#Wr" x="708"/></g>
<g id="r58" transform="translate(0,3026)"><text class="t e" x="21" y="4.5">58</text><text class="t" x="770" y="4.5">58</text><use href="#Wl" x="84"/><use href="#Kl" x="136"/><use href="#Bl" x="188"/><use href="#Bl" x="240"/><use href="#Bl" x="292"/><use href="#Bl" x="344"/><use href="#Bl" x="396"/><use href="#Bl" x="448"/><use href="#Bl" x="500"/><use href="#Bl" x="552"/><use href="#Ll" x="604"/><use href="#Kl" x="656"/><use href="#Wl" x="708"/></g>
<g id="r59" transform="translate(0,3078)"><text class="t e" x="21" y="4.5">59</text><text class="t" x="770" y="4.5">59</text><use href="#Wr" x="84"/><use href="#Kr" x="136"/><use href="#Br" x="188"/><use href="#Br" x="240"/><use href="#Br" x="292"/><use href="#Br" x="344"/><use href="#Br" x="396"/><use href="#Br" x="448"/><use href="#Br" x="500"/><use href="#Br" x="552"/><use href="#Lr" x="604"/><use href="#Kr" x="656"/><use href="#Wr" x="708"/></g>
<g id="r60" transform="translate(0,3130)"><text class="t e" x="21" y="4.5">60</text><text class="t" x="770" y="4.5">60</text><use href="#Wl" x="84"/><use href="#Kl" x="136"/><use href="#Ll" x="188"/><use href="#Ll" x="240"/><use href="#Ll" x="292"/><use href="#Ll" x="344"/><use href="#Ll" x="396"/><use href="#Ll" x="448"/><use href="#Ll" x="500"/><use href="#Ll" x="552"/><use href="#Kl" x="604"/><use href="#Kl" x="656"/><use href="#Wl" x="708"/></g>
<g id="r61" transform="translate(0,3182)"><text class="t e" x="21" y="4.5">61</text><text class="t" x="770" y="4.5">61</text><use href="#Wr" x="84"/><use href="#Kr" x="136"/><use href="#Kr" x="188"/><use href="#Kr" x="240"/><use href="#Kr" x="292"/><use href="#Kr" x="344"/><use href="#Wr" x="396"/><use href="#Kr" x="448"/><use href="#Kr" x="500"/><use href="#Kr" x="552"/><use href="#Kr" x="604"/><use href="#Kr" x="656"/><use href="#Wr" x="708"/></g>
<g id="r62" transform="translate(0,3234)"><text class="t e" x="21" y="4.5">62</text><text class="t" x="770" y="4.5">62</text><use href="#Wl" x="84"/><use href="#Kl" x="136"/><use href="#Kl" x="188"/><use href="#Kl" x="240"/><use href="#Kl" x="292"/><use href="#Kl" x="344"/><use href="#Wl" x="396"/><use href="#Kl" x="448"/><use href="#Kl" x="500"/><use href="#Kl" x="552"/><use href="#Kl" x="604"/><use href="#Kl" x="656"/><use href="#Wl" x="708"/></g>
<g id="r63" transform="translate(0,3286)"><text class="t e" x="21" y="4.5">63</text><text class="t" x="770" y="4.5">63</text><use href="#Wr" x="84"/><use href="#Kr" x="136"/><use href="#Kr" x="188"/><use href="#Kr" x="240"/><use href="#Kr" x="292"/><use href="#Kr" x="344"/><use href="#Wr" x="396"/><use href="#Kr" x="448"/><use href="#Kr" x="500"/><use href="#Kr" x="552"/><use href="#Kr" x="604"/><use href="#Kr" x="656"/><use href="#Wr" x="708"/></g>
<g id="r64" transform="translate(0,3338)"><text class="t e" x="21" y="4.5">64</text><text class="t" x="770" y="4.5">64</text><use href="#Wl" x="84"/><use href="#Kl" x="136"/><use href="#Kl" x="188"/><use href="#Kl" x="240"/><use href="#Kl" x="292"/><use href="#Kl" x="344"/><use href="#Wl" x="396"/><use href="#Kl" x="448"/><use href="#Kl" x="500"/><use href="#Wl" x="552"/><use href="#Kl" x="604"/><use href="#Kl" x="656"/><use href="#Wl" x="708"/></g>
<g id="r65" transform="translate(0,3390)"><text class="t e" x="21" y="4.5">65</text><text class="t" x="770" y="4.5">65</text><use href="#Wr" x="84"/><use href="#Kr" x="136"/><use href="#Kr" x="188"/><use href="#Kr" x="240"/><use href="#Kr" x="292"/><use href="#Kr" x="344"/><use href="#Wr" x="396"/><use href="#Wr" x="448"/><use href="#Wr" x="500"/><use href="#Wr" x="552"/><use href="#Wr" x="604"/><use href="#Kr" x="656"/><use href="#Wr" x="708"/></g>
<g id="r66" transform="translate(0,3442)"><text class="t e" x="21" y="4.5">66</text><text class="t" x="770" y="4.5">66</text><use href="#Wl" x="84"/><use href="#Kl" x="136"/><use href="#Kl" x="188"/><use href="#Kl" x="240"/><use href="#Kl" x="292"/><use href="#Kl" x="344"/><use href="#Wl" x="396"/><use href="#Kl" x="448"/><use href="#Kl" x="500"/><use href="#Wl" x="552"/><use href="#Kl" x="604"/><use href="#Kl" x="656"/><use href="#Wl" x="708"/></g>
<g id="r67" transform="translate(0,3494)"><text class="t e" x="21" y="4.5">67</text><text class="t" x="770" y="4.5">67</text><use href="#Wr" x="84"/><use href="#Kr" x="136"/><use href="#Kr" x="188"/><use href="#Kr" x="240"/><use href="#Kr" x="292"/><use href="#Kr" x="344"/><use href="#Wr" x="396"/><use href="#Kr" x="448"/><use href="#Kr" x="500"/><use href="#Kr" x="552"/><use href="#Kr" x="604"/><use href="#Kr" x="656"/><use href="#Wr" x="708"/></g>
<g id="r68" transform="translate(0,3546)"><text class="t e" x="21" y="4.5">68</text><text class="t" x="770" y="4.5">68</text><use href="#Wl" x="84"/><use href="#Kl" x="136"/><use href="#Kl" x="188"/><use href="#Kl" x="240"/><use href="#Kl" x="292"/><use href="#Kl" x="344"/><use href="#Wl" x="396"/><use href="#Kl" x="448"/><use href="#Kl" x="500"/><use href="#Kl" x="552"/><use href="#Kl" x="604"/><use href="#Kl" x="656"/><use href="#Wl" x="708"/></g>
<g id="connectors">
<use href="#pK" class="cx"/><use href="#pK" class="ck"/>
<use href="#pO" class="cx"/><use href="#pO" class="cO"/>
<use href="#pL" class="cx"/><use href="#pL" class="cL"/>
<use href="#pB" class="cx"/><use href="#pB" class="cB"/>
</g>
<text id="watermark" x="396" y="1809" text-anchor="middle" font-family="Liberation Sans, Arial, sans-serif" font-weight="bold" font-size="15" textLength="154" lengthAdjust="spacingAndGlyphs" fill="#444" stroke="#fff" stroke-width="1.5" paint-order="stroke">BRACELETBOOK.COM</text>
</svg>
